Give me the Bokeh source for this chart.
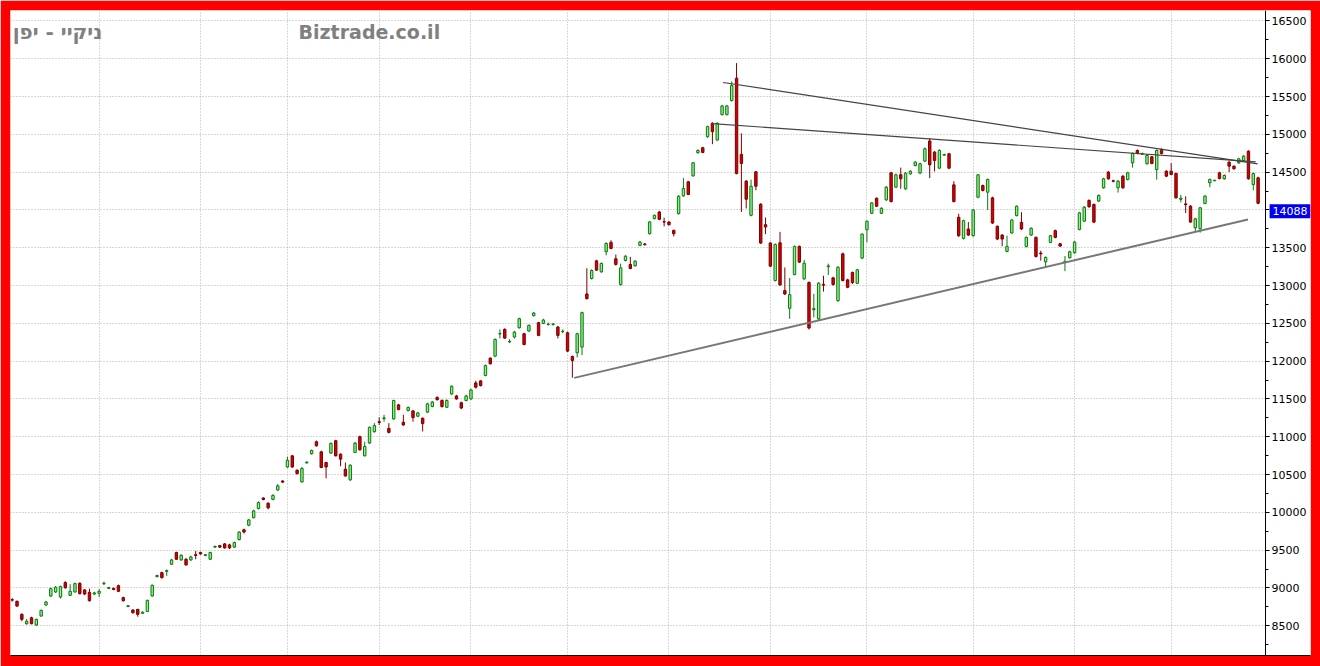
from bokeh.plotting import figure
from bokeh.models import ColumnDataSource, Range1d, SingleIntervalTicker, FixedTicker, Label, BoxAnnotation
from bokeh.embed import file_html
from bokeh.resources import INLINE

title_he = "ניקיי - יפן"
site_name = "Biztrade.co.il"
last_close_text = "14088"

opens = [8845, 8823, 8651, 8527, 8606, 8510, 8629, 8775, 8894, 8947,
         8881, 9071, 8903, 8947, 9062, 8974, 8943, 8920, 8930, 9055,
         8995, 8995, 9031, 8872, 8755, 8708, 8717, 8665, 8691, 8894,
         9150, 9203, 9220, 9314, 9469, 9371, 9380, 9371, 9440, 9470,
         9430, 9380, 9540, 9560, 9583, 9570, 9540, 9640, 9770, 9830,
         9930, 10050, 10190, 10120, 10172, 10296, 10415, 10600, 10748, 10557,
         10402, 10655, 10775, 10934, 10801, 10660, 10784, 10948, 10770, 10571,
         10429, 10792, 11001, 10748, 10917, 11067, 11200, 11240, 11110, 11236,
         11422, 11192, 11347, 11342, 11272, 11245, 11325, 11400, 11520, 11480,
         11390, 11566, 11540, 11450, 11480, 11500, 11712, 11739, 11810, 12040,
         12066, 12360, 12420, 12255, 12319, 12442, 12363, 12398, 12602, 12509,
         12500, 12485, 12485, 12451, 12390, 12376, 12062, 12111, 12186, 12889,
         13093, 13327, 13181, 13447, 13571, 13354, 13013, 13332, 13279, 13261,
         13531, 13550, 13686, 13885, 13973, 13845, 13841, 13730, 13951, 14186,
         14372, 14451, 14757, 14823, 14969, 15146, 14925, 15261, 15261, 15447,
         15743, 14735, 14381, 13929, 14504, 14075, 13805, 13562, 13066, 13566,
         12933, 12699, 13146, 13518, 13088, 13040, 12680, 12558, 13015, 13250,
         13102, 12800, 13420, 13075, 13173, 13030, 13363, 13739, 13956, 14155,
         13956, 14133, 14491, 14301, 14465, 14279, 14478, 14588, 14487, 14646,
         14912, 14765, 14553, 14725, 14743, 14332, 13903, 13624, 13748, 13659,
         14168, 14323, 14235, 14160, 13783, 13668, 13451, 13695, 13925, 13836,
         13518, 13668, 13637, 13430, 13314, 13571, 13726, 13553, 13310, 13368,
         13434, 13742, 13852, 14126, 14073, 14117, 14293, 14500, 14385, 14293,
         14447, 14403, 14623, 14786, 14738, 14610, 14703, 14535, 14800, 14513,
         14513, 14482, 14140, 14080, 14051, 13764, 13751, 14086, 14359, 14387,
         14491, 14412, 14632, 14579, 14623, 14654, 14777, 14337, 14425]

highs = [8865, 8835, 8665, 8590, 8620, 8595, 8715, 8830, 9005, 9025,
         9030, 9090, 9050, 9070, 9075, 8985, 8990, 8950, 8985, 9085,
         9015, 9005, 9045, 8885, 8775, 8720, 8725, 8690, 8845, 9045,
         9175, 9215, 9245, 9385, 9480, 9445, 9395, 9425, 9490, 9480,
         9450, 9480, 9560, 9570, 9595, 9585, 9615, 9750, 9785, 9915,
         10035, 10145, 10200, 10135, 10240, 10375, 10425, 10735, 10760, 10570,
         10600, 10675, 10830, 10950, 10815, 10670, 10925, 10960, 10780, 10660,
         10635, 10930, 11015, 10935, 11135, 11180, 11258, 11290, 11180, 11490,
         11435, 11290, 11400, 11355, 11330, 11255, 11450, 11475, 11535, 11495,
         11495, 11680, 11555, 11465, 11555, 11635, 11740, 11750, 11955, 12050,
         12300, 12420, 12435, 12290, 12400, 12575, 12375, 12485, 12650, 12520,
         12560, 12510, 12505, 12465, 12420, 12390, 12075, 12375, 12655, 13230,
         13215, 13340, 13305, 13570, 13600, 13410, 13290, 13400, 13380, 13335,
         13590, 13560, 13855, 13940, 13985, 13898, 13850, 13740, 14195, 14420,
         14385, 14635, 14800, 14835, 15115, 15160, 15160, 15390, 15390, 15700,
         15942, 15013, 14395, 14400, 14515, 14090, 13900, 13575, 13555, 13710,
         13240, 13100, 13530, 13530, 13340, 13055, 12890, 13045, 13130, 13290,
         13115, 13255, 13435, 13090, 13185, 13220, 13690, 13860, 14105, 14165,
         14035, 14315, 14505, 14480, 14560, 14500, 14525, 14645, 14625, 14825,
         14950, 14780, 14800, 14745, 14755, 14380, 13950, 13870, 13840, 14010,
         14475, 14335, 14415, 14175, 13795, 13680, 13660, 13880, 14060, 13970,
         13650, 13770, 13650, 13460, 13385, 13670, 13740, 13565, 13390, 13460,
         13590, 13975, 14050, 14140, 14085, 14205, 14425, 14515, 14400, 14395,
         14460, 14505, 14760, 14800, 14760, 14735, 14715, 14800, 14815, 14525,
         14620, 14495, 14200, 14180, 14065, 13895, 14040, 14195, 14415, 14400,
         14505, 14470, 14645, 14590, 14690, 14725, 14790, 14495, 14440]

lows = [8820, 8750, 8560, 8515, 8520, 8500, 8620, 8760, 8880, 8935,
        8860, 8990, 8895, 8940, 8915, 8905, 8820, 8905, 8880, 9040,
        8985, 8970, 8945, 8820, 8745, 8660, 8620, 8655, 8680, 8885,
        9140, 9125, 9160, 9305, 9370, 9360, 9295, 9360, 9380, 9440,
        9420, 9370, 9530, 9530, 9520, 9515, 9530, 9630, 9720, 9815,
        9920, 10040, 10160, 10040, 10160, 10285, 10390, 10590, 10590, 10500,
        10395, 10645, 10765, 10870, 10585, 10450, 10775, 10740, 10610, 10470,
        10420, 10785, 10815, 10740, 10905, 11055, 11156, 11200, 11045, 11225,
        11350, 11145, 11335, 11200, 11260, 11070, 11315, 11390, 11480, 11385,
        11380, 11555, 11490, 11365, 11470, 11490, 11640, 11665, 11800, 11955,
        12055, 12300, 12295, 12240, 12300, 12430, 12210, 12390, 12590, 12330,
        12490, 12470, 12470, 12300, 12370, 12120, 11780, 12050, 12080, 12815,
        13080, 13195, 13170, 13400, 13480, 13265, 13000, 13320, 13215, 13250,
        13520, 13530, 13675, 13875, 13865, 13783, 13795, 13650, 13940, 14175,
        14195, 14440, 14745, 14750, 14955, 14870, 14915, 15250, 15250, 15435,
        14470, 13973, 14020, 13915, 14260, 13550, 13680, 13245, 13055, 12995,
        12875, 12560, 13135, 13300, 13075, 12420, 12580, 12545, 12920, 13140,
        13000, 12785, 13055, 12965, 13020, 13020, 13350, 13570, 13945, 14040,
        13945, 14120, 14100, 14290, 14280, 14265, 14465, 14575, 14475, 14635,
        14420, 14510, 14540, 14715, 14540, 14100, 13645, 13610, 13655, 13645,
        14155, 14245, 14000, 13815, 13600, 13520, 13440, 13685, 13915, 13735,
        13505, 13655, 13370, 13330, 13250, 13560, 13625, 13510, 13190, 13355,
        13420, 13730, 13840, 14030, 13825, 14105, 14280, 14400, 14365, 14230,
        14280, 14390, 14560, 14735, 14725, 14600, 14605, 14400, 14735, 14435,
        14460, 14150, 14100, 13960, 13830, 13720, 13700, 14075, 14300, 14380,
        14405, 14400, 14500, 14535, 14610, 14640, 14400, 14260, 14075]

closes = [8840, 8761, 8585, 8560, 8527, 8585, 8704, 8815, 8991, 9009,
          9018, 9004, 8956, 9058, 8925, 8920, 8832, 8935, 8956, 9062,
          9005, 8980, 8956, 8832, 8765, 8673, 8651, 8680, 8836, 9036,
          9165, 9137, 9230, 9371, 9380, 9433, 9305, 9411, 9430, 9450,
          9440, 9469, 9550, 9540, 9530, 9530, 9600, 9740, 9740, 9900,
          10020, 10130, 10170, 10060, 10225, 10350, 10400, 10690, 10600, 10513,
          10580, 10665, 10819, 10880, 10593, 10600, 10912, 10748, 10704, 10482,
          10624, 10917, 10828, 10872, 11125, 11147, 11190, 11250, 11058, 11480,
          11360, 11156, 11387, 11254, 11316, 11174, 11435, 11460, 11490, 11400,
          11480, 11668, 11500, 11380, 11540, 11620, 11655, 11677, 11942, 11965,
          12288, 12365, 12305, 12262, 12385, 12562, 12221, 12473, 12637, 12341,
          12544, 12490, 12490, 12341, 12396, 12133, 12009, 12363, 12642, 12827,
          13199, 13204, 13292, 13557, 13491, 13279, 13234, 13389, 13226, 13323,
          13575, 13540, 13841, 13929, 13876, 13840, 13805, 13686, 14181, 14283,
          14204, 14624, 14788, 14761, 15102, 15035, 15146, 15376, 15376, 15646,
          14482, 14615, 14142, 14314, 14314, 13562, 13774, 13257, 13544, 13009,
          12889, 12880, 13518, 13310, 13296, 12438, 12695, 13031, 13005, 13260,
          13013, 13243, 13066, 12977, 13040, 13208, 13681, 13850, 14093, 14049,
          14022, 14301, 14111, 14465, 14412, 14487, 14513, 14633, 14611, 14810,
          14597, 14655, 14788, 14732, 14553, 14111, 13659, 13858, 13668, 14000,
          14465, 14257, 14403, 13827, 13615, 13615, 13518, 13867, 14049, 13748,
          13637, 13757, 13385, 13420, 13372, 13659, 13637, 13522, 13320, 13447,
          13575, 13962, 14037, 14042, 13839, 14192, 14412, 14412, 14380, 14381,
          14293, 14491, 14747, 14747, 14745, 14720, 14615, 14786, 14747, 14447,
          14470, 14160, 14155, 14070, 13840, 13883, 14029, 14183, 14403, 14392,
          14416, 14456, 14579, 14544, 14676, 14711, 14412, 14482, 14088]

# first trading session of each month (vertical grid)
month_first = [18, 39, 57, 76, 95, 115, 136, 157, 177, 199, 220, 240]

# drawn trend lines (session index, price)
trend_x0 = [116.4, 147.2, 145.0]
trend_y0 = [11779, 15686, 15142]
trend_x1 = [255.9, 257.9, 257.5]
trend_y1 = [13874, 14610, 14636]

idx = list(range(len(opens)))
up = [c >= o for o, c in zip(opens, closes)]
src = ColumnDataSource(dict(
    x=idx,
    o=opens, h=highs, l=lows, c=closes,
    top=[max(o, c) for o, c in zip(opens, closes)],
    bot=[min(o, c) for o, c in zip(opens, closes)],
    fill=["#90ee90" if u else "#d40000" for u in up],
    edge=["#0a7a0a" if u else "#7a0000" for u in up],
))

X0 = -0.35          # left edge of the frame (session units)
AXIS_AT = 259.55    # where the price axis stands
X1 = 268.85         # right edge of the white area

p = figure(width=1320, height=666, output_backend="svg", toolbar_location=None, tools="",
           x_range=Range1d(X0, X1), y_range=Range1d(8107, 16638),
           y_axis_location="right", x_axis_location="below",
           min_border_left=10, min_border_right=10, min_border_top=10, min_border_bottom=11,
           border_fill_color="#ff0000", background_fill_color="#ffffff",
           outline_line_color=None)

# white strip behind the price labels (hides grid lines there)
p.add_layout(BoxAnnotation(left=AXIS_AT, fill_color="#ffffff", fill_alpha=1.0,
                           line_color=None, level="underlay"))

yax = p.yaxis[0]
yax.fixed_location = AXIS_AT
yax.ticker = SingleIntervalTicker(interval=500, num_minor_ticks=2)
yax.major_label_text_font = "DejaVu Sans"
yax.major_label_text_font_size = "11px"
yax.major_label_text_color = "#000000"
yax.major_label_standoff = 2
yax.major_tick_out = 4
yax.major_tick_in = 0
yax.minor_tick_out = 3
yax.minor_tick_in = 0
yax.axis_line_color = "#000000"
yax.major_tick_line_color = "#000000"
yax.minor_tick_line_color = "#000000"

xax = p.xaxis[0]
xax.ticker = FixedTicker(ticks=[])
xax.major_tick_out = 0
xax.minor_tick_out = 0
xax.axis_line_color = "#000000"

p.ygrid.grid_line_color = "#b0b0b0"
p.ygrid.grid_line_dash = "1 2"
p.xgrid.ticker = FixedTicker(ticks=month_first)
p.xgrid.grid_line_color = "#b0b0b0"
p.xgrid.grid_line_dash = "1 2"

p.segment(x0="x", y0="h", x1="x", y1="l", color="edge", line_width=1, source=src)
p.vbar(x="x", width=0.5, top="top", bottom="bot", fill_color="fill", line_color="edge",
       line_width=1, source=src)

tsrc = ColumnDataSource(dict(x0=trend_x0, y0=trend_y0, x1=trend_x1, y1=trend_y1,
                             col=["#777777", "#444444", "#444444"], w=[2, 1.2, 1.2]))
p.segment(x0="x0", y0="y0", x1="x1", y1="y1", line_color="col", line_width="w", source=tsrc)

p.add_layout(Label(x=0.1, y=16360, text=title_he, text_font="DejaVu Sans", text_font_style="bold",
                   text_font_size="20px", text_color="#808080", text_baseline="middle",
                   text_align="left"))
p.add_layout(Label(x=59.3, y=16360, text=site_name, text_font="DejaVu Sans", text_font_style="bold",
                   text_font_size="19px", text_color="#808080", text_baseline="middle",
                   text_align="left"))
p.add_layout(Label(x=AXIS_AT, y=closes[-1], text=last_close_text, text_font="DejaVu Sans",
                   text_font_size="11px", text_color="#ffffff", text_baseline="top",
                   text_align="left", x_offset=4, y_offset=-1, level="overlay",
                   background_fill_color="#0000ee", padding=3))

open("out.html", "w").write(file_html(p, INLINE))
